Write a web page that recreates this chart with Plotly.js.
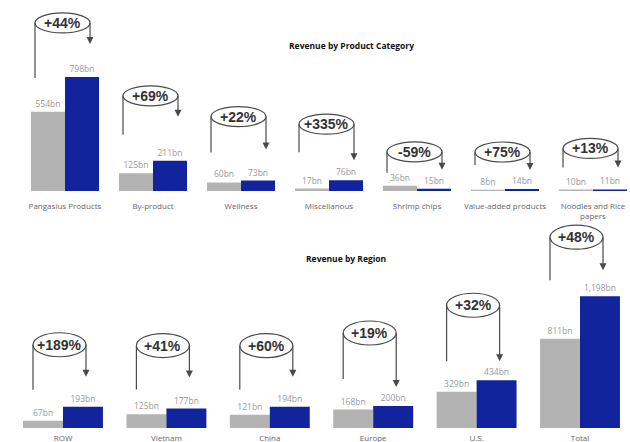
<!DOCTYPE html>
<html><head><meta charset="utf-8">
<script src="https://cdn.plot.ly/plotly-3.0.1.min.js"></script>
<style>html,body{margin:0;padding:0;background:#fff}#chart{width:630px;height:442px}</style>
</head><body><div id="chart"></div>
<script>
// ---- data ----
const productCats = ['Pangasius Products','By-product','Wellness','Miscellanous','Shrimp chips','Value-added products','Noodles and Rice<br>papers'];
const productPrev = [554,125,60,17,36,8,10];
const productCurr = [798,211,73,76,15,14,11];
const productGrowth = ['+44%','+69%','+22%','+335%','-59%','+75%','+13%'];

const regionCats = ['ROW','Vietnam','China','Europe','U.S.','Total'];
const regionPrev = [67,125,121,168,329,811];
const regionCurr = [193,177,194,200,434,1198];
const regionGrowth = ['+189%','+41%','+60%','+19%','+32%','+48%'];

// ---- style / layout config ----
const GRAY = '#B3B3B3', BLUE = '#12239E';
const FONT = '"Open Sans", "Noto Sans", sans-serif';
const LINK = '#4a4a4a';
// connector lifts in pixels above the taller bar of each pair
const productLinks = {ellipse:[54,65,64,56,34,37,41], tip:[33,44,31,20,16,19,22], left:[-1,26,28,28,13,24,22]};
const regionLinks  = {ellipse:[62,63,61,73,75,59], tip:[30,31,30,19,19,26], left:[17,19,17,27,19,16]};
const productGeo = {left:-30, right:25, h:20};
const regionGeo  = {left:-30, right:23, h:24};

function bars(cats, vals, color, xa, ya){
  return {type:'bar', x:cats, y:vals, xaxis:xa, yaxis:ya,
    marker:{color:color, line:{width:0}},
    texttemplate:'%{y:,}bn', textposition:'outside', constraintext:'none', cliponaxis:false,
    textfont:{family:FONT, size:8.5, color:'#999'}, hoverinfo:'skip'};
}

function connectors(prev, curr, growth, links, geo, xref, yref){
  const shapes = [], anns = [];
  prev.forEach((p, i) => {
    const top = Math.max(p, curr[i]);
    const base = {xref:xref, yref:yref, xanchor:i, yanchor:top, xsizemode:'pixel', ysizemode:'pixel',
                  line:{color:LINK, width:1.2}};
    const e = links.ellipse[i], t = links.tip[i], l = links.left[i];
    shapes.push(Object.assign({}, base, {type:'line', x0:geo.left, x1:geo.left, y0:e, y1:l}));
    shapes.push(Object.assign({}, base, {type:'line', x0:geo.right, x1:geo.right, y0:e, y1:t+6}));
    shapes.push(Object.assign({}, base, {type:'path',
      path:'M'+(geo.right-3.5)+','+(t+7)+' L'+(geo.right+3.5)+','+(t+7)+' L'+geo.right+','+t+' Z',
      fillcolor:LINK, line:{width:0}}));
    shapes.push(Object.assign({}, base, {type:'circle', x0:geo.left, x1:geo.right,
      y0:e-geo.h/2, y1:e+geo.h/2, fillcolor:'rgba(255,255,255,0)'}));
    anns.push({xref:xref, yref:yref, x:i, y:top, xshift:(geo.left+geo.right)/2, yshift:e,
      text:'<b>'+growth[i]+'</b>', showarrow:false,
      font:{family:'"Liberation Sans", Arial, sans-serif', size:14, color:'#333'}});
  });
  return {shapes, anns};
}

const c1 = connectors(productPrev, productCurr, productGrowth, productLinks, productGeo, 'x', 'y');
const c2 = connectors(regionPrev, regionCurr, regionGrowth, regionLinks, regionGeo, 'x2', 'y2');

const data = [
  bars(productCats, productPrev, GRAY, 'x', 'y'),
  bars(productCats, productCurr, BLUE, 'x', 'y'),
  bars(regionCats, regionPrev, GRAY, 'x2', 'y2'),
  bars(regionCats, regionCurr, BLUE, 'x2', 'y2')
];

const H = 428;
const xCommon = {type:'category', showgrid:false, zeroline:false, showline:false,
  ticks:'outside', tickcolor:'rgba(0,0,0,0)', tickfont:{family:FONT, size:8, color:'#666'}, fixedrange:true};
const layout = {
  width:630, height:442, margin:{l:0, r:0, t:0, b:14},
  paper_bgcolor:'#fff', plot_bgcolor:'rgba(0,0,0,0)', showlegend:false,
  barmode:'group', bargap:0.227, bargroupgap:0,
  font:{family:FONT, color:'#666'},
  xaxis: Object.assign({}, xCommon, {ticklen:7, domain:[0,1], range:[-65/88, 565/88], anchor:'y'}),
  yaxis: {domain:[(H-191)/H, 1], range:[0, 191/0.143], visible:false, anchor:'x', fixedrange:true},
  xaxis2: Object.assign({}, xCommon, {ticklen:2, domain:[0,1], range:[-63/103.4, 567/103.4], anchor:'y2'}),
  yaxis2: {domain:[0, 216/H], range:[0, 216/0.110], visible:false, anchor:'x2', fixedrange:true},
  shapes: c1.shapes.concat(c2.shapes),
  annotations: c1.anns.concat(c2.anns).concat([
    {xref:'paper', yref:'paper', x:351/630, y:(H-38)/H, text:'<b>Revenue by Product Category</b>', showarrow:false,
     font:{family:FONT, size:8.5, color:'#111'}},
    {xref:'paper', yref:'paper', x:346/630, y:(H-258)/H, text:'<b>Revenue by Region</b>', showarrow:false,
     font:{family:FONT, size:8.5, color:'#111'}}
  ])
};

Plotly.newPlot('chart', data, layout, {displayModeBar:false, staticPlot:true});
</script>
</body></html>
